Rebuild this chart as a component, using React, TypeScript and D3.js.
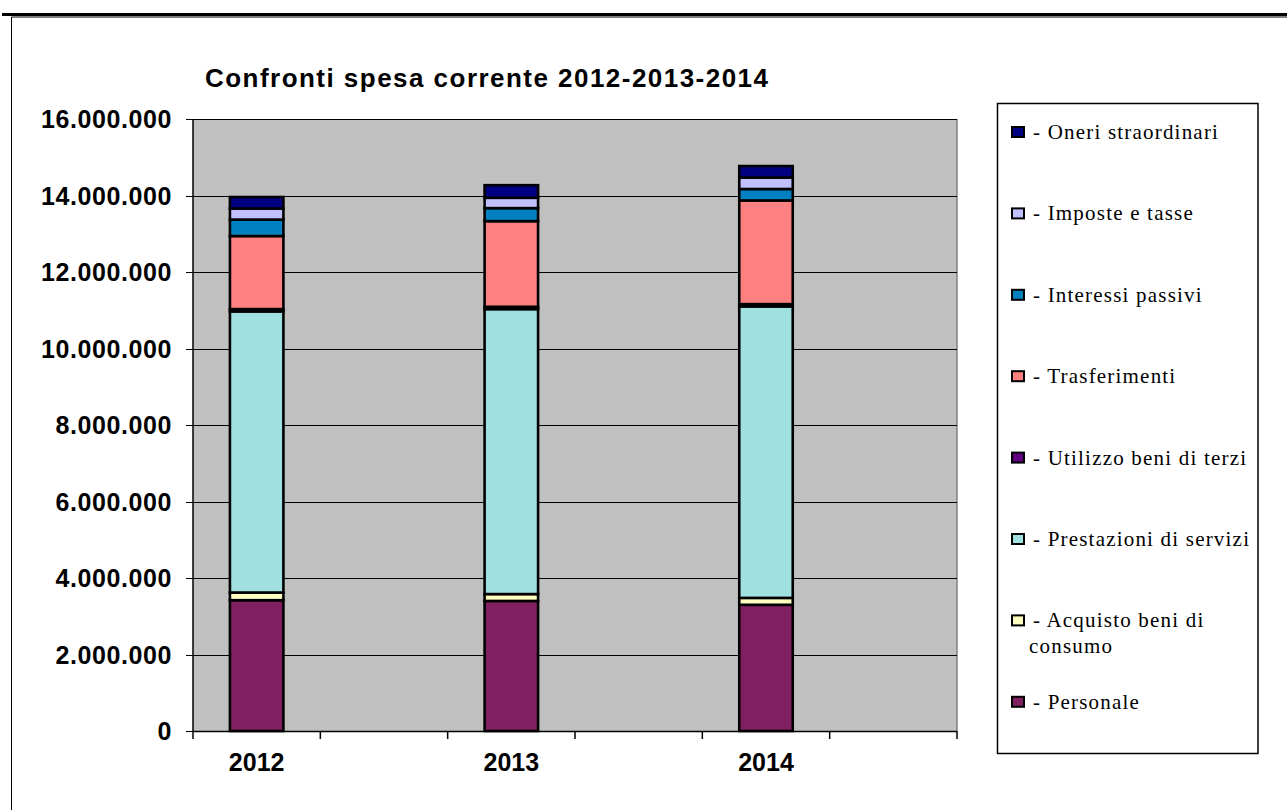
import React from "react";
import * as d3 from "d3";

const categories = ["2012", "", "2013", "", "2014", ""];
const years = ["2012", "2013", "2014"];

const personale = [3.42e6, 3.40e6, 3.30e6];
const acquisto = [0.20e6, 0.18e6, 0.18e6];
const prestazioni = [7.35e6, 7.45e6, 7.62e6];
const utilizzo = [0.06e6, 0.06e6, 0.06e6];
const trasferimenti = [1.91e6, 2.24e6, 2.71e6];
const interessi = [0.43e6, 0.34e6, 0.30e6];
const imposte = [0.29e6, 0.27e6, 0.30e6];
const oneri = [0.30e6, 0.33e6, 0.30e6];

const seriesNames = [
  "- Personale",
  "- Acquisto beni di consumo",
  "- Prestazioni di servizi",
  "- Utilizzo beni di terzi",
  "- Trasferimenti",
  "- Interessi passivi",
  "- Imposte e tasse",
  "- Oneri straordinari",
];
const seriesColors = [
  "#802060",
  "#FFFFC0",
  "#A0E0E0",
  "#600080",
  "#FF8080",
  "#0080C0",
  "#C0C0FF",
  "#000080",
];
const legendLines = [
  ["- Personale"],
  ["- Acquisto beni di", "consumo"],
  ["- Prestazioni di servizi"],
  ["- Utilizzo beni di terzi"],
  ["- Trasferimenti"],
  ["- Interessi passivi"],
  ["- Imposte e tasse"],
  ["- Oneri straordinari"],
];
const yTicks = [0, 2e6, 4e6, 6e6, 8e6, 10e6, 12e6, 14e6, 16e6];
const title = "Confronti spesa corrente 2012-2013-2014";

const seriesValues = [personale, acquisto, prestazioni, utilizzo, trasferimenti, interessi, imposte, oneri];

const W = 1287;
const H = 810;
const plot = { left: 193, right: 957, top: 119, bottom: 731 };

const itLocale = d3.formatLocale({ decimal: ",", thousands: ".", grouping: [3], currency: ["", ""] });
const fmt = itLocale.format(",");

export default function App() {
  const x = d3
    .scaleBand<number>()
    .domain(categories.map((_, i) => i))
    .range([plot.left, plot.right])
    .paddingInner(0)
    .paddingOuter(0);
  const y = d3.scaleLinear().domain([0, 16e6]).range([plot.bottom, plot.top]);
  const barW = x.bandwidth() * 0.42;

  const rows = years.map((yr, j) => {
    const o: any = { year: yr };
    seriesNames.forEach((s, k) => (o[s] = seriesValues[k][j]));
    return o;
  });
  const stacked = d3.stack().keys(seriesNames)(rows);

  const boundaries = d3.range(categories.length + 1).map((i) =>
    i < categories.length ? (x(i) as number) : plot.right
  );

  const legendTop = 132;
  const legendStep = 81.4;

  return (
    <svg width={W} height={H} style={{ position: "absolute", left: 0, top: 0, background: "#fff" }}>
      {/* outer frame */}
      <line x1={2} x2={W} y1={14.5} y2={14.5} stroke="#000" strokeWidth={3} />
      <line x1={11.5} x2={W} y1={17} y2={17} stroke="#000" strokeWidth={1} />
      <line x1={11.5} x2={11.5} y1={17} y2={H} stroke="#000" strokeWidth={1} />

      {/* title */}
      <text
        x={205}
        y={87}
        fontFamily="'Liberation Sans', Arial, sans-serif"
        fontWeight="bold"
        fontSize={26}
        textLength={563}
        lengthAdjust="spacing"
        fill="#000"
      >
        {title}
      </text>

      {/* plot background */}
      <rect x={plot.left} y={plot.top} width={plot.right - plot.left} height={plot.bottom - plot.top} fill="#C0C0C0" />
      <line x1={plot.right} x2={plot.right} y1={plot.top} y2={plot.bottom} stroke="#808080" strokeWidth={1.5} />

      {/* gridlines */}
      {yTicks.map((t) => (
        <line key={"g" + t} x1={plot.left - 7} x2={plot.right} y1={Math.round(y(t)) + 0.5} y2={Math.round(y(t)) + 0.5} stroke="#000" strokeWidth={1} />
      ))}

      {/* bars */}
      {stacked.map((layer, k) =>
        layer.map((d, j) => {
          const idx = j * 2;
          const cx = (x(idx) as number) + x.bandwidth() / 2;
          return (
            <rect
              key={k + "-" + j}
              x={cx - barW / 2}
              y={y(d[1])}
              width={barW}
              height={Math.max(0, y(d[0]) - y(d[1]))}
              fill={seriesColors[k]}
              stroke="#000"
              strokeWidth={2.6}
            />
          );
        })
      )}

      {/* axes */}
      <line x1={plot.left} x2={plot.left} y1={plot.top} y2={plot.bottom} stroke="#000" strokeWidth={1.5} />
      <line x1={plot.left} x2={plot.right} y1={plot.bottom + 0.5} y2={plot.bottom + 0.5} stroke="#000" strokeWidth={1.5} />
      {boundaries.map((bx, i) => (
        <line key={"xt" + i} x1={bx} x2={bx} y1={plot.bottom} y2={plot.bottom + 8} stroke="#000" strokeWidth={1.5} />
      ))}

      {/* y labels */}
      {yTicks.map((t) => (
        <text
          key={"yl" + t}
          x={172}
          y={y(t)}
          dy="0.36em"
          textAnchor="end"
          fontFamily="'Liberation Sans', Arial, sans-serif"
          fontWeight="bold"
          fontSize={25}
          letterSpacing={0.6}
          fill="#000"
        >
          {fmt(t)}
        </text>
      ))}

      {/* x labels */}
      {categories.map((c, i) =>
        c ? (
          <text
            key={"xl" + i}
            x={(x(i) as number) + x.bandwidth() / 2}
            y={771}
            textAnchor="middle"
            fontFamily="'Liberation Sans', Arial, sans-serif"
            fontWeight="bold"
            fontSize={25}
            fill="#000"
          >
            {c}
          </text>
        ) : null
      )}

      {/* legend */}
      <rect x={997.5} y={103.5} width={260.5} height={650} fill="#fff" stroke="#000" strokeWidth={1.5} />
      {legendLines
        .map((lines, k) => ({ lines, k }))
        .reverse()
        .map(({ lines, k }, i) => {
          const cy = legendTop + i * legendStep;
          return (
            <g key={"lg" + k}>
              <rect x={1012} y={cy - 5} width={12} height={10} fill={seriesColors[k]} stroke="#000" strokeWidth={2} />
              {lines.map((ln, li) => (
                <text
                  key={li}
                  x={li === 0 ? 1033 : 1029}
                  y={cy + 7 + li * 26}
                  fontFamily="'Liberation Serif', 'Times New Roman', serif"
                  fontSize={21}
                  letterSpacing={1.2}
                  fill="#000"
                >
                  {ln}
                </text>
              ))}
            </g>
          );
        })}
    </svg>
  );
}
